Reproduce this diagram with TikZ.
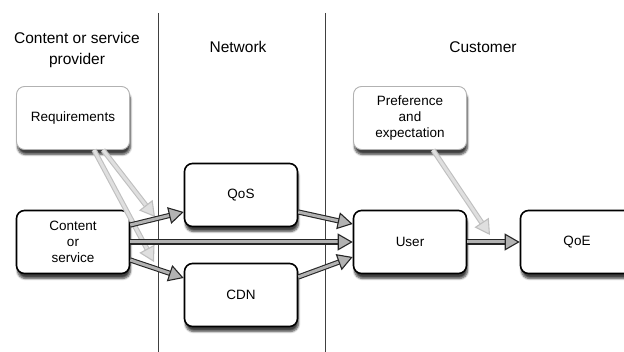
\documentclass[tikz,border=0pt]{standalone}
\usepackage{fontspec}
\setmainfont{Liberation Sans}
\usetikzlibrary{arrows.meta,shadows.blur}

\tikzset{
  box/.style={draw=black, line width=1.6pt, rounded corners=8pt, fill=white,
    minimum width=113pt, minimum height=63pt, align=center,
    font=\fontsize{13.5}{16}\selectfont,
    blur shadow={shadow xshift=1pt, shadow yshift=-5pt, shadow blur steps=6, shadow opacity=75}},
  softbox/.style={box, draw=gray!60, line width=0.9pt},
  flow/.style={draw=black!85, line width=1.1pt, double=gray!60, double distance=3pt,
    -{Triangle[length=15pt, width=17pt, fill=gray!60]}},
  softflow/.style={draw=gray!50, line width=1.1pt, double=gray!25, double distance=3pt,
    -{Triangle[length=15pt, width=17pt, fill=gray!25]}},
  lane/.style={draw=black!75, line width=1pt},
  head/.style={font=\fontsize{15.5}{21}\selectfont, align=center}
}

\begin{document}
\begin{tikzpicture}[x=1pt, y=-1pt]
  \useasboundingbox (0,0) rectangle (624,352);

  % lanes and their titles
  \draw[lane] (158,13) -- (158,352);
  \draw[lane] (325,13) -- (325,352);
  \node[head] (hprov) at (77,50) {Content or service\\provider};
  \node[head] (hnet) at (238,47) {Network};
  \node[head] (hcust) at (483,47) {Customer};

  % boxes
  \node[softbox] (req) at (73,118) {Requirements};
  \node[box] (cont) at (73,242) {Content\\or\\service};
  \node[box] (qos) at (241,195) {QoS};
  \node[box] (cdn) at (241,295) {CDN};
  \node[box] (user) at (410,242) {User};
  \node[box] (qoe) at (577,242) {QoE};
  \node[softbox] (pref) at (410,118) {Preference\\and\\expectation};

  % where the light arrows land
  \coordinate (rq) at (155,217);
  \coordinate (rc) at (154,262);
  \coordinate (uq) at (490,235);

  % influence arrows
  \draw[softflow] ([xshift=30pt]req.south) -- (rq);
  \draw[softflow] ([xshift=21pt]req.south) -- (rc);
  \draw[softflow] ([xshift=23pt]pref.south) -- (uq);

  % main flow
  \draw[flow] ([yshift=17pt]cont.east) -- ([yshift=-17pt]qos.west);
  \draw[flow] (cont.east) -- (user.west);
  \draw[flow] ([yshift=-18pt]cont.east) -- ([yshift=17pt]cdn.west);
  \draw[flow] ([yshift=-17pt]qos.east) -- ([yshift=18pt]user.west);
  \draw[flow] ([yshift=18pt]cdn.east) -- ([yshift=-15pt]user.west);
  \draw[flow] (user.east) -- (qoe.west);
\end{tikzpicture}
\end{document}
